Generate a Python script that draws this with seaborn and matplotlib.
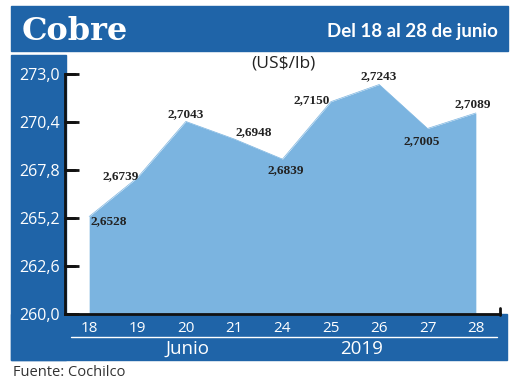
import matplotlib
matplotlib.use("Agg")
import matplotlib.pyplot as plt
import seaborn as sns
from matplotlib.patches import Rectangle
from matplotlib.lines import Line2D

days = ["18", "19", "20", "21", "24", "25", "26", "27", "28"]
prices = [2.6528, 2.6739, 2.7043, 2.6948, 2.6839, 2.7150, 2.7243, 2.7005, 2.7089]
y_ticks = [260.0, 262.6, 265.2, 267.8, 270.4, 273.0]
# label offsets in points (dx, dy) relative to each point
label_offsets = [(14, -3), (-12, 1), (0, 5), (14, 5), (2, -8), (-14, 1), (0, 6), (-4, -9), (-2, 6)]

BLUE = "#1f64a8"
FILL = "#7bb4e0"

sns.set_style("ticks")
plt.rcParams["font.family"] = ["Open Sans", "DejaVu Sans"]

fig = plt.figure(figsize=(5.2, 3.9), dpi=100)
W, H = 520, 390


def px_rect(x0, y0, x1, y1, color):
    fig.patches.append(Rectangle((x0 / W, 1 - y1 / H), (x1 - x0) / W, (y1 - y0) / H,
                                 transform=fig.transFigure, color=color, zorder=-10))


# background bands
px_rect(11, 6, 508, 51, BLUE)
px_rect(11, 55, 66, 360, BLUE)
px_rect(11, 314, 507, 360, BLUE)

ax = fig.add_axes([65 / W, 1 - 314 / H, (500 - 65) / W, (314 - 74) / H])
ax.set_facecolor("none")
ax.set_zorder(2)

x = list(range(len(days)))
values = [p * 100 for p in prices]
sns.lineplot(x=x, y=values, ax=ax, color=FILL, linewidth=0.5)
ax.fill_between(x, values, 260, color=FILL, linewidth=0)

ax.set_xlim(-0.5, 8.5)
ax.set_ylim(260, 273)
ax.set_yticks(y_ticks)
ax.set_yticklabels([f"{v:.1f}".replace(".", ",") for v in y_ticks])
ax.set_xticks(x)
ax.set_xticklabels(days)

for s in ["top", "right"]:
    ax.spines[s].set_visible(False)
for s in ["left", "bottom"]:
    ax.spines[s].set_color("#111111")
    ax.spines[s].set_linewidth(2)

ax.yaxis.set_ticks_position("left")
ax.tick_params(axis="y", left=True, direction="in", length=10, width=2, color="#111111",
               labelcolor="white", labelsize=11.5, pad=4)
ax.tick_params(axis="x", bottom=False, length=0, labelcolor="white", labelsize=11, pad=5)
ax.set_xlabel("")
ax.set_ylabel("")

# tick marks on the inner side of the y axis, placed from the axis scale
to_fig = fig.transFigure.inverted()
for yt in y_ticks:
    yf = to_fig.transform(ax.transData.transform((0, yt)))[1]
    fig.add_artist(Line2D([65 / W, 75 / W], [yf, yf], color="#111111", linewidth=2,
                          transform=fig.transFigure, zorder=10))

for xi, v, p, (dx, dy) in zip(x, values, prices, label_offsets):
    ax.annotate(f"{p:.4f}".replace(".", ","), (xi, v), xytext=(dx, dy),
                textcoords="offset points", ha="center", va="center",
                fontsize=9.5, fontweight="bold", color="#222222",
                family=["Liberation Serif", "DejaVu Serif"])

# small end mark on x axis
fig.add_artist(Line2D([500 / W, 500 / W], [1 - 315 / H, 1 - 308 / H],
                      color="#111111", linewidth=2, transform=fig.transFigure))
# separator line under day labels
fig.add_artist(Line2D([71 / W, 497 / W], [1 - 337 / H, 1 - 337 / H],
                      color="white", linewidth=1, transform=fig.transFigure))

fig.text(22 / W, 1 - 31 / H, "Cobre", color="white", fontsize=23, fontweight="bold",
         family=["DejaVu Serif"], ha="left", va="center")
fig.text(498 / W, 1 - 31 / H, "Del 18 al 28 de junio", color="white", fontsize=13.5,
         fontweight="bold", family=["Lato", "DejaVu Sans"],
         ha="right", va="center")
fig.text(283 / W, 1 - 63 / H, "(US$/lb)", color="#222222", fontsize=12.5,
         ha="center", va="center")
fig.text(187 / W, 1 - 349 / H, "Junio", color="white", fontsize=13.5,
         ha="center", va="center")
fig.text(362 / W, 1 - 349 / H, "2019", color="white", fontsize=13.5,
         ha="center", va="center")
fig.text(13 / W, 1 - 373 / H, "Fuente: Cochilco", color="#333333", fontsize=10.5,
         ha="left", va="center")

fig.savefig("out.png", dpi=100)
